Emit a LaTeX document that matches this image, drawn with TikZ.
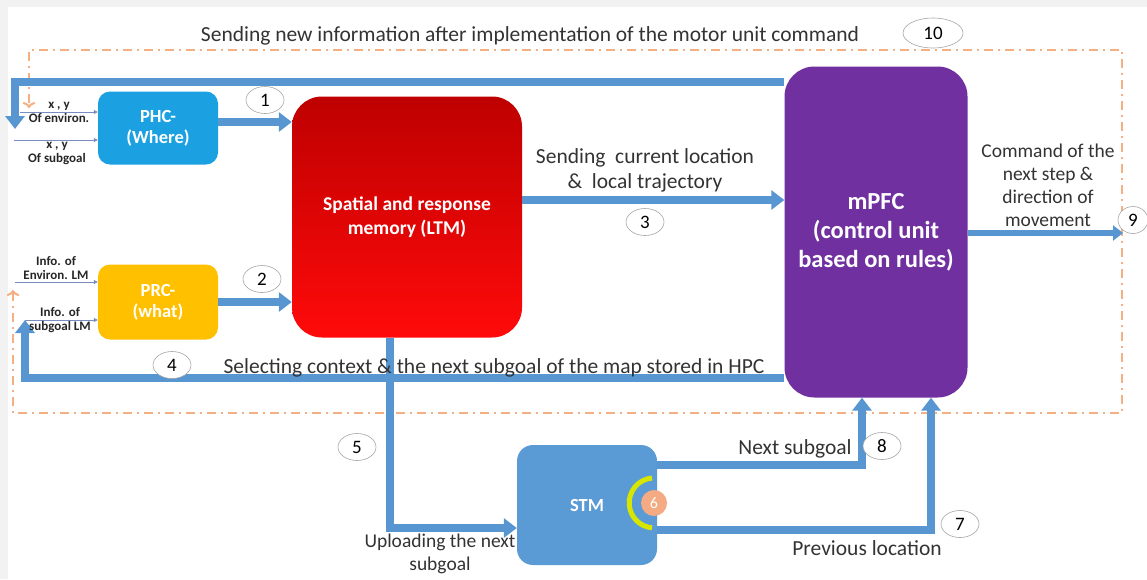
\documentclass[tikz,border=0pt]{standalone}
\usepackage{fontspec}
\setmainfont{Carlito}
\usetikzlibrary{arrows.meta,shapes.geometric}
\definecolor{phcblue}{RGB}{27,161,226}
\definecolor{prcyellow}{RGB}{255,192,0}
\definecolor{ltmdark}{RGB}{190,0,0}
\definecolor{ltmred}{RGB}{255,10,10}
\definecolor{mpfcpurple}{RGB}{112,48,160}
\definecolor{stmblue}{RGB}{91,155,213}
\definecolor{flowblue}{RGB}{88,150,210}
\definecolor{loopora}{RGB}{244,176,131}
\definecolor{thinblue}{RGB}{120,140,190}
\begin{document}
\begin{tikzpicture}[x=1pt, y=-1pt,
      lohko/.style={rounded corners=12pt, text=white, align=center,
        font=\fontsize{18.5}{21}\selectfont\bfseries},
      virta/.style={line width=8pt, draw=flowblue,
        -{Triangle[width=19pt,length=13pt]}},
      ohut/.style={line width=0.8pt, draw=thinblue,
        -{Triangle[width=4pt,length=4pt]}},
      silmukka/.style={line width=2pt, draw=loopora,
        dash pattern=on 9pt off 5pt on 2pt off 5pt,
        -{Triangle[width=7pt,length=6pt]}},
      numero/.style={ellipse, draw=gray!70, line width=0.6pt, fill=white,
        minimum width=38pt, minimum height=27pt, inner sep=0pt,
        font=\fontsize{19}{22}\selectfont},
      teksti/.style={align=center, text=black!80,
        font=\fontsize{21.5}{25}\selectfont},
      pieni/.style={align=center, inner sep=1pt, text=black!85,
        font=\fontsize{13}{14}\selectfont\bfseries}]

      % Tausta
      \useasboundingbox (0,0) rectangle (1147,579);
      \fill [gray!10] (0,0) rectangle (1147,579);
      \fill [white] (8,7) rectangle (1147,579);

      % Lohkot
      \node [lohko, fill=phcblue, minimum width=120pt, minimum height=73pt]
        (phc) at (158,128) {PHC-\\(Where)};
      \node [lohko, fill=prcyellow, minimum width=120pt, minimum height=75pt]
        (prc) at (158,302) {PRC-\\(what)};
      \node [lohko, top color=ltmdark, bottom color=ltmred, rounded corners=30pt,
        minimum width=230pt, minimum height=241pt,
        font=\fontsize{19.5}{24}\selectfont\bfseries]
        (ltm) at (407,217) {Spatial and response\\memory (LTM)};
      \node [lohko, fill=mpfcpurple, rounded corners=30pt,
        minimum width=183pt, minimum height=331pt,
        font=\fontsize{24.5}{29}\selectfont\bfseries]
        (mpfc) at (876,232) {mPFC\\(control unit\\based on rules)};
      \node [lohko, fill=stmblue, rounded corners=16pt,
        minimum width=140pt, minimum height=120pt]
        (stm) at (587,505) {STM};

      % Vapaat päät
      \coordinate (ulos) at (1123,233);
      \coordinate (ylavasen) at (15,129);
      \coordinate (alavasen) at (25,320);
      \coordinate (xy1) at (20,112);
      \coordinate (xy2) at (14,140);
      \coordinate (lm1) at (15,282);

      % Silmukka
      \draw [silmukka, <->] (13,290) -- (13,413) -- (1122,413) -- (1122,50)
        -- (29,50) -- (29,108);

      % Nuolet
      \draw [virta] ([yshift=6pt]phc.east) -- ([yshift=6pt]phc.east -| ltm.west);
      \draw [virta] (prc.east) -- (prc.east -| ltm.west);
      \draw [virta] ([yshift=17pt]ltm.east) -- ([yshift=17pt]ltm.east -| mpfc.west);
      \draw [virta, -{Triangle[width=15pt,length=10pt]}, line width=6pt]
        (mpfc.east |- ulos) -- (ulos);
      \draw [virta] ([yshift=150pt]mpfc.west) -| (ylavasen);
      \draw [virta] ([yshift=-146pt]mpfc.west) -| (alavasen);
      \draw [virta] ([xshift=-17pt]ltm.south) |- ([yshift=-23pt]stm.west);
      \draw [virta] ([yshift=40pt]stm.east) -| ([xshift=-14pt]mpfc.south);
      \draw [virta] ([yshift=-25pt]stm.east) -| ([xshift=55pt]mpfc.south);

      % Ohuet syötteet
      \draw [ohut] (xy1) -- (xy1 -| phc.west);
      \draw [ohut] (xy2) -- (xy2 -| phc.west);
      \draw [ohut] (lm1) -- (lm1 -| prc.west);
      \draw [ohut] (alavasen) -- (alavasen -| prc.west);
      \node [pieni] (xyenv) at (59,112) {x , y\\Of environ.};
      \node [pieni, anchor=north] (xysub) at (57,141) {x , y\\Of subgoal};
      \node [pieni, anchor=south] (lmenv) at (56,281) {Info. of\\Environ. LM};
      \node [pieni] (lmsub) at (60,320) {Info. of\\subgoal LM};

      % Muisti 6
      \draw [line width=5pt, draw={rgb,255:red,215;green,230;blue,0}]
        (652,478) arc[start angle=-95, end angle=-265, radius=25];
      \node [circle, fill={rgb,255:red,244;green,170;blue,130}, text=white,
        minimum size=26pt, inner sep=0pt, font=\fontsize{16}{18}\selectfont]
        (kuusi) at (654,503) {6};

      % Tekstit
      \node [teksti] (otsikko) at (530,36)
        {Sending new information after implementation of the motor unit command};
      \node [teksti] (paikka) at (645,170)
        {Sending\ \ current location\\\&\ \ local trajectory};
      \node [teksti] (valinta) at (494,368)
        {Selecting context \& the next subgoal of the map stored in HPC};
      \node [teksti, font=\fontsize{19.5}{23}\selectfont] (komento) at (1048,185)
        {Command of the\\next step \&\\direction of\\movement};
      \node [teksti, font=\fontsize{19.5}{23}\selectfont] (lataus) at (440,554)
        {Uploading the next\\subgoal};
      \node [teksti] (seuraava) at (795,449) {Next subgoal};
      \node [teksti] (edellinen) at (867,548) {Previous location};

      % Numerot
      \node [numero] (n1) at (265,100) {1};
      \node [numero] (n2) at (262,279) {2};
      \node [numero] (n3) at (645,222) {3};
      \node [numero] (n4) at (172,365) {4};
      \node [numero] (n5) at (357,447) {5};
      \node [numero] (n7) at (960,524) {7};
      \node [numero] (n8) at (882,446) {8};
      \node [numero, minimum width=30pt] (n9) at (1133,220) {9};
      \node [numero, minimum width=60pt, minimum height=30pt] (n10) at (933,33) {10};
    \end{tikzpicture}
\end{document}
